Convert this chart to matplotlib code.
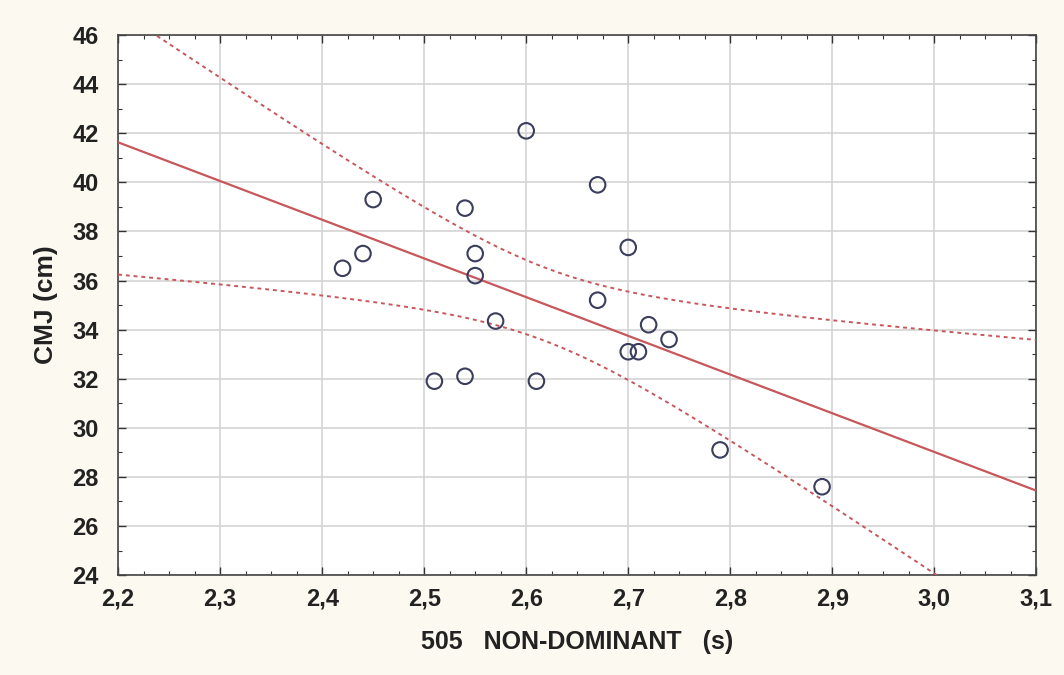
import numpy as np
import matplotlib
matplotlib.use("Agg")
import matplotlib.pyplot as plt
from matplotlib.ticker import MultipleLocator, FuncFormatter

# 505 non-dominant time (s) vs CMJ (cm)
time_505 = [2.42, 2.44, 2.45, 2.54, 2.55, 2.55, 2.57, 2.51, 2.54, 2.60,
            2.61, 2.67, 2.67, 2.70, 2.70, 2.71, 2.72, 2.74, 2.79, 2.89]
cmj = [36.5, 37.1, 39.3, 38.95, 37.1, 36.2, 34.35, 31.9, 32.1, 42.1,
       31.9, 39.9, 35.2, 37.35, 33.1, 33.1, 34.2, 33.6, 29.1, 27.6]

x_ticks = [2.2, 2.3, 2.4, 2.5, 2.6, 2.7, 2.8, 2.9, 3.0, 3.1]
y_ticks = [24, 26, 28, 30, 32, 34, 36, 38, 40, 42, 44, 46]

plt.rcParams['font.family'] = ['Liberation Sans', 'DejaVu Sans']

x = np.array(time_505)
y = np.array(cmj)
n = len(x)
slope, icept = np.polyfit(x, y, 1)
xs = np.linspace(2.2, 3.1, 200)
fit = icept + slope * xs
resid = y - (icept + slope * x)
s = np.sqrt(np.sum(resid ** 2) / (n - 2))
t = 2.101  # t(0.975, 18)
se = s * np.sqrt(1.0 / n + (xs - x.mean()) ** 2 / np.sum((x - x.mean()) ** 2))

fig = plt.figure(figsize=(10.64, 6.75), dpi=100, facecolor='#fbf9f0')
ax = fig.add_axes([0.111, 0.148, 0.863, 0.800])

red = '#c8575c'
ax.plot(xs, fit, color=red, lw=1.6, zorder=3)
ax.plot(xs, fit + t * se, color=red, lw=1.4, ls=(0, (2, 2)), zorder=3)
ax.plot(xs, fit - t * se, color=red, lw=1.4, ls=(0, (2, 2)), zorder=3)
ax.scatter(x, y, s=125, facecolors='none', edgecolors='#3a3d5c', linewidths=1.5, zorder=4)

ax.set_xlim(2.2, 3.1)
ax.set_ylim(24, 46)
ax.set_xticks(x_ticks)
ax.set_yticks(y_ticks)
ax.xaxis.set_minor_locator(MultipleLocator(0.025))
ax.yaxis.set_minor_locator(MultipleLocator(1))
ax.xaxis.set_major_formatter(FuncFormatter(lambda v, p: f"{v:.1f}".replace('.', ',')))
ax.tick_params(which='both', direction='in', top=True, right=True, color='#333333')
ax.tick_params(which='major', length=6, width=1, labelsize=17)
ax.tick_params(axis='y', which='major', pad=14)
ax.tick_params(axis='x', which='major', pad=9)
ax.tick_params(which='minor', length=3, width=0.8)
for lab in ax.get_xticklabels() + ax.get_yticklabels():
    lab.set_fontweight('bold')
    lab.set_color('#222222')
ax.grid(True, which='major', color='#d4d4d4', lw=1.2)
ax.set_axisbelow(True)
for sp in ax.spines.values():
    sp.set_color('#444444')
    sp.set_linewidth(1.2)

ax.set_xlabel('505   NON-DOMINANT   (s)', fontsize=18, fontweight='bold',
              color='#222222', labelpad=14)
ax.set_ylabel('CMJ (cm)', fontsize=19, fontweight='bold', color='#222222', labelpad=10)

fig.savefig('out.png', dpi=100, facecolor=fig.get_facecolor())
